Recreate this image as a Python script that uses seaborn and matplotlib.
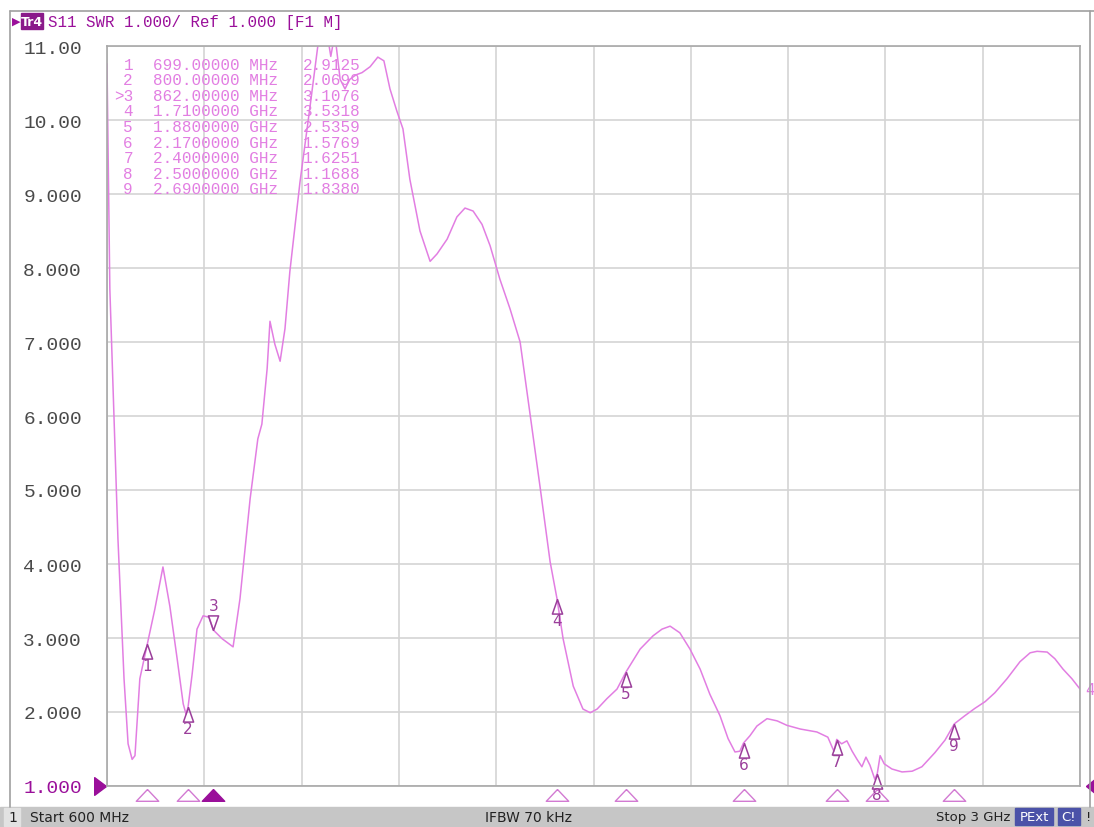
import matplotlib
matplotlib.use("Agg")
import matplotlib.pyplot as plt
import numpy as np
import pandas as pd
import seaborn as sns
from matplotlib.patches import Rectangle

# ---- Data -------------------------------------------------------------------
# Trace: frequency (MHz) vs SWR
freq_mhz = [
    600, 607, 620, 627, 642, 652, 662, 669, 681, 699, 718, 738, 755, 773, 788,
    795, 800, 810, 822, 837, 852, 862, 884, 911, 928, 953, 972, 982, 995, 1002,
    1014, 1027, 1039, 1051, 1076, 1101, 1120, 1130, 1145, 1152, 1162, 1175,
    1187, 1199, 1214, 1229, 1249, 1268, 1283, 1298, 1315, 1330, 1347, 1372,
    1397, 1414, 1439, 1463, 1483, 1503, 1525, 1545, 1569, 1594, 1619, 1643,
    1668, 1693, 1710, 1725, 1750, 1774, 1792, 1809, 1833, 1858, 1880, 1915,
    1947, 1969, 1989, 2013, 2038, 2063, 2087, 2112, 2132, 2149, 2161, 2170,
    2186, 2203, 2228, 2253, 2277, 2310, 2351, 2378, 2393, 2400, 2412, 2425,
    2438, 2450, 2462, 2472, 2482, 2494, 2500, 2507, 2517, 2536, 2561, 2586,
    2610, 2642, 2667, 2690, 2716, 2741, 2766, 2790, 2820, 2852, 2877, 2894,
    2919, 2938, 2958, 2980, 3000,
]
swr = [
    10.76, 7.72, 5.55, 4.34, 2.45, 1.57, 1.36, 1.41, 2.45, 2.91, 3.39, 3.96,
    3.43, 2.72, 2.11, 1.97, 2.07, 2.51, 3.12, 3.30, 3.28, 3.11, 2.99, 2.88,
    3.53, 4.88, 5.69, 5.89, 6.64, 7.28, 6.97, 6.74, 7.18, 7.95, 9.16, 10.19,
    11.00, 11.36, 11.10, 10.86, 11.16, 10.55, 10.42, 10.55, 10.61, 10.64,
    10.72, 10.85, 10.80, 10.42, 10.12, 9.88, 9.20, 8.50, 8.09, 8.19, 8.39,
    8.69, 8.81, 8.77, 8.59, 8.30, 7.85, 7.45, 7.00, 6.05, 5.05, 4.03, 3.53,
    2.99, 2.35, 2.04, 1.99, 2.04, 2.18, 2.31, 2.54, 2.85, 3.03, 3.12, 3.16,
    3.07, 2.85, 2.58, 2.24, 1.95, 1.64, 1.46, 1.47, 1.58, 1.68, 1.81, 1.91,
    1.88, 1.82, 1.77, 1.73, 1.66, 1.47, 1.63, 1.57, 1.61, 1.47, 1.36, 1.26,
    1.39, 1.28, 1.09, 1.17, 1.41, 1.30, 1.23, 1.19, 1.20, 1.26, 1.45, 1.62,
    1.84, 1.95, 2.05, 2.14, 2.26, 2.45, 2.68, 2.80, 2.82, 2.81, 2.72, 2.58,
    2.45, 2.31,
]

marker_ids = [1, 2, 3, 4, 5, 6, 7, 8, 9]
marker_freq = [699, 800, 862, 1710, 1880, 2170, 2400, 2500, 2690]
marker_swr = [2.9125, 2.0699, 3.1076, 3.5318, 2.5359, 1.5769, 1.6251, 1.1688, 1.8380]
marker_freq_text = ["699.00000 MHz", "800.00000 MHz", "862.00000 MHz",
                    "1.7100000 GHz", "1.8800000 GHz", "2.1700000 GHz",
                    "2.4000000 GHz", "2.5000000 GHz", "2.6900000 GHz"]
active_marker = 3

y_ticks = [1, 2, 3, 4, 5, 6, 7, 8, 9, 10, 11]
y_tick_labels = ["1.000", "2.000", "3.000", "4.000", "5.000", "6.000",
                 "7.000", "8.000", "9.000", "10.00", "11.00"]

# ---- Style ------------------------------------------------------------------
trace_col = "#e27ee2"
mark_col = "#9b3f9b"
ref_col = "#9a0f9a"
mono = "Liberation Mono"

sns.set_style("white")
W, H = 1094, 828
fig = plt.figure(figsize=(W / 100, H / 100), dpi=100)
ax = fig.add_axes([107 / W, 1 - 787 / H, 973 / W, 740 / H])

df = pd.DataFrame({"freq": freq_mhz, "swr": swr})
sns.lineplot(data=df, x="freq", y="swr", ax=ax, color=trace_col, lw=1.1)

ax.set_xlim(600, 3000)
ax.set_ylim(1, 11)
ax.set_xticks(np.arange(600, 3001, 240))
ax.set_xticklabels([])
ax.set_yticks(y_ticks)
ax.set_yticklabels(y_tick_labels, fontfamily=mono, fontsize=14, color="#4a4a4a")
ax.get_yticklabels()[0].set_color(ref_col)
ax.tick_params(length=0, pad=18)
ax.grid(True, color="#d4d4d4", lw=1.2)
ax.set_xlabel("")
ax.set_ylabel("")
for s in ax.spines.values():
    s.set_color("#a8a8a8")
    s.set_linewidth(1.2)

# marker symbols on the trace (tip at trace value)
tri_up = [(0, 0), (-0.35, -1), (0.35, -1), (0, 0)]
tri_dn = [(0, 0), (-0.35, 1), (0.35, 1), (0, 0)]
for mid, f, v in zip(marker_ids, marker_freq, marker_swr):
    if mid == active_marker:
        ax.plot(f, v, marker=tri_dn, ms=21, mfc="none", mec=mark_col, mew=1.1)
        ax.annotate(str(mid), (f, v), xytext=(0, 12), textcoords="offset points",
                    ha="center", va="bottom", color=mark_col, fontsize=11)
    else:
        ax.plot(f, v, marker=tri_up, ms=21, mfc="none", mec=mark_col, mew=1.1,
                clip_on=False)
        ax.annotate(str(mid), (f, v), xytext=(0, -10), textcoords="offset points",
                    ha="center", va="top", color=mark_col, fontsize=11)

# marker indicators under the grid
tri_flat = [(0, 0), (-0.95, -1), (0.95, -1), (0, 0)]
xt = ax.get_xaxis_transform()
for mid, f in zip(marker_ids, marker_freq):
    active = mid == active_marker
    ax.plot(f, -0.004, marker=tri_flat, ms=17, transform=xt, clip_on=False,
            mfc=ref_col if active else "none", mec=ref_col if active else "#d27ad2",
            mew=1.0)

# reference level pointers
yt = ax.get_yaxis_transform()
ax.plot(-0.001, 1, marker=[(0, 0), (-1, 0.75), (-1, -0.75), (0, 0)], ms=17,
        transform=yt, clip_on=False, color=ref_col)
ax.plot(1.006, 1, marker=[(0, 0), (1, 0.8), (1, -0.8), (0, 0)], ms=16,
        transform=yt, clip_on=False, color=ref_col)
ax.text(1.005, swr[-1], "4", transform=yt, color=trace_col, fontsize=11,
        va="center", ha="left", clip_on=False)

# marker table
for i, (mid, ftxt, v) in enumerate(zip(marker_ids, marker_freq_text, marker_swr)):
    yy = 1 - (65 + i * 15.6) / H
    num = (">" if mid == active_marker else "") + str(mid)
    fig.text(133 / W, yy, num, ha="right", va="center", family=mono,
             fontsize=11.5, color=trace_col)
    fig.text(153 / W, yy, ftxt, ha="left", va="center", family=mono,
             fontsize=11.5, color=trace_col)
    fig.text(303 / W, yy, f"{v:.4f}", ha="left", va="center", family=mono,
             fontsize=11.5, color=trace_col)

# instrument frame, header and status bar
fig.add_artist(plt.Line2D([10 / W, 1], [1 - 12 / H] * 2, color="#a0a0a0", lw=1.2))
fig.add_artist(plt.Line2D([10 / W] * 2, [1 - 12 / H, 1 - 808 / H], color="#a0a0a0", lw=1.2))
fig.add_artist(plt.Line2D([1090 / W] * 2, [1 - 12 / H, 1 - 808 / H], color="#a0a0a0", lw=1.2))
fig.text(12 / W, 1 - 22 / H, "▶", color=ref_col, fontsize=8, va="center")
fig.add_artist(Rectangle((21 / W, 1 - 30 / H), 22 / W, 16 / H, color="#8a1a8a"))
fig.text(32 / W, 1 - 22 / H, "Tr4", color="white", fontsize=9, va="center",
         ha="center", weight="bold")
fig.text(48 / W, 1 - 22 / H, "S11 SWR 1.000/ Ref 1.000 [F1 M]", family=mono,
         fontsize=11.3, color=ref_col, va="center")

fig.add_artist(Rectangle((0, 0), 1, 20 / H, color="#c6c6c6"))
fig.add_artist(Rectangle((4 / W, 1 / H), 16 / W, 18 / H, color="#e2e2e2"))
fig.text(8 / W, 10 / H, "1", fontsize=10, va="center", color="#222222")
fig.text(30 / W, 10 / H, "Start 600 MHz", fontsize=10, va="center", color="#222222")
fig.text(485 / W, 10 / H, "IFBW 70 kHz", fontsize=10, va="center", color="#222222")
fig.text(1010 / W, 10 / H, "Stop 3 GHz", fontsize=9.5, va="center", ha="right",
         color="#222222")
fig.add_artist(Rectangle((1015 / W, 2 / H), 38 / W, 17 / H, color="#4b52a8"))
fig.text(1034 / W, 10 / H, "PExt", fontsize=9.5, va="center", ha="center", color="white")
fig.add_artist(Rectangle((1058 / W, 2 / H), 22 / W, 17 / H, color="#4b52a8"))
fig.text(1069 / W, 10 / H, "C!", fontsize=9.5, va="center", ha="center", color="white")
fig.text(1086 / W, 10 / H, "!", fontsize=9.5, va="center", color="#222222")

fig.savefig("out.png", dpi=100)
